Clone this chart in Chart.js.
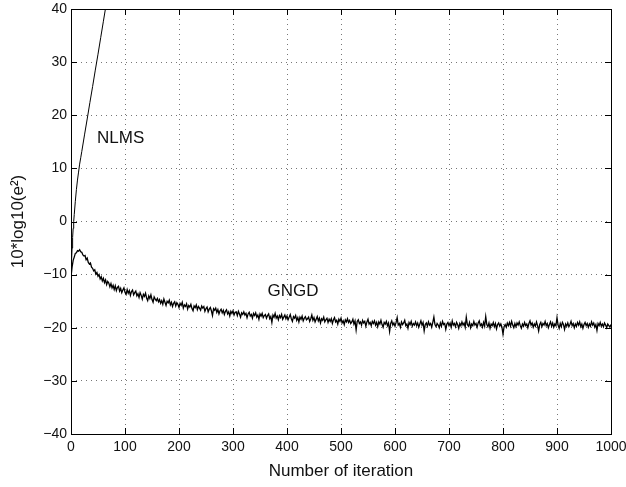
<!DOCTYPE html>
<html>
<head>
<meta charset="utf-8">
<script src="https://cdn.jsdelivr.net/npm/chart.js@4/dist/chart.umd.min.js"></script>
<style>
  html, body { margin: 0; padding: 0; background: #fff; }
  #chart { display: block; }
</style>
</head>
<body>
<canvas id="chart" width="626" height="487"></canvas>
<script>
// NLMS error curve - diverges quickly (iteration, dB)
const nlmsIter = [0, 1, 2, 3, 4, 5, 6, 8, 10, 12, 14, 16, 18, 20, 25, 30, 35, 40, 45, 50, 55, 60, 65, 70];
const nlmsDb = [-10.5, -7.5, -5, -3, -1.3, 0, 1.3, 3.8, 6, 7.8, 9.3, 10.8, 12, 13.2, 16.3, 19.3, 22.4, 25.4, 28.5, 31.5, 34.6, 37.7, 40.8, 43.9];

// GNGD error curve, one value every 2 iterations (0..1000), 40 iterations per row
const gngdStep = 2;
const gngdDb = [
  -10.4, -8.6, -7.3, -6.7, -6.0, -5.9, -5.5, -5.6, -5.3, -5.7, -5.8, -6.3, -6.5, -6.4, -7.2, -6.9, -7.7, -8.0, -7.8, -8.6,
  -8.8, -9.3, -9.1, -9.9, -9.6, -10.3, -10.0, -10.8, -10.4, -11.2, -10.7, -11.5, -11.0, -11.9, -11.3, -11.6, -12.3, -11.7, -12.5, -12.0,
  -12.8, -12.1, -13.0, -12.4, -12.2, -13.1, -12.6, -13.4, -12.9, -12.5, -13.3, -13.7, -12.8, -13.5, -13.0, -13.9, -13.2, -12.9, -13.8, -13.4,
  -13.1, -14.0, -13.6, -14.3, -13.4, -13.9, -14.6, -13.7, -14.1, -13.5, -14.4, -14.9, -14.0, -14.5, -13.8, -14.7, -15.2, -14.2, -14.6, -14.9,
  -14.5, -15.1, -14.7, -15.4, -14.9, -15.6, -14.6, -15.2, -15.8, -15.0, -15.3, -14.8, -15.7, -15.2, -16.0, -15.4, -15.1, -15.9, -15.3, -15.6,
  -16.2, -15.4, -15.8, -15.2, -16.3, -15.7, -16.0, -15.5, -16.5, -15.8, -16.1, -15.6, -16.4, -16.8, -15.9, -16.2, -15.7, -16.6, -16.0, -16.3,
  -16.7, -15.9, -16.3, -16.0, -16.9, -16.4, -16.1, -17.0, -16.5, -16.2, -16.8, -17.7, -16.4, -16.7, -16.3, -17.1, -16.6, -17.4, -16.8, -16.5,
  -17.2, -16.7, -17.5, -16.9, -16.6, -17.4, -17.0, -17.8, -16.9, -17.3, -16.8, -17.6, -17.1, -17.0, -17.7, -16.9, -17.4, -18.0, -17.2, -17.5,
  -17.0, -17.6, -17.3, -18.1, -17.4, -17.1, -17.8, -17.5, -18.2, -17.3, -17.7, -17.2, -18.0, -17.6, -18.4, -17.4, -17.8, -17.3, -18.1, -17.7,
  -17.5, -18.2, -17.7, -17.4, -18.3, -17.9, -19.0, -17.6, -18.0, -17.3, -18.2, -17.8, -18.5, -17.7, -18.1, -17.5, -18.4, -18.0, -17.6, -18.3,
  -17.8, -18.5, -18.0, -17.5, -18.3, -18.8, -17.9, -18.2, -17.7, -18.6, -18.1, -18.9, -18.0, -18.4, -17.8, -18.7, -18.2, -17.9, -18.5, -18.3,
  -18.0, -18.8, -18.3, -17.6, -18.6, -18.1, -18.9, -18.4, -17.9, -18.7, -18.2, -19.1, -18.3, -18.6, -18.0, -18.9, -18.5, -18.2, -19.0, -18.4,
  -18.8, -18.3, -19.2, -18.5, -18.1, -18.9, -18.6, -19.3, -18.4, -18.8, -18.2, -19.1, -18.7, -19.4, -18.5, -18.9, -18.3, -19.0, -18.6, -19.2,
  -18.9, -18.4, -19.3, -18.7, -20.4, -18.8, -18.5, -19.2, -18.9, -19.5, -18.6, -19.1, -18.8, -19.7, -18.9, -18.4, -19.3, -19.0, -19.6, -18.8,
  -19.2, -18.7, -19.5, -19.0, -19.8, -18.9, -19.3, -18.6, -19.4, -19.9, -19.0, -19.3, -18.8, -19.6, -19.1, -20.7, -19.2, -18.7, -19.5, -19.1,
  -19.7, -19.0, -18.1, -19.5, -19.2, -19.9, -18.9, -19.4, -19.1, -18.6, -19.6, -19.3, -20.1, -19.0, -19.4, -18.8, -19.7, -19.2, -19.5, -18.9,
  -19.6, -19.1, -19.9, -19.3, -18.7, -19.5, -19.0, -20.6, -19.4, -19.1, -19.7, -18.9, -19.5, -19.2, -19.9, -19.0, -18.0, -19.4, -19.8, -19.2,
  -19.5, -20.0, -19.1, -19.7, -18.8, -19.4, -19.2, -20.3, -19.3, -19.0, -19.6, -19.1, -19.9, -18.7, -19.5, -19.2, -19.8, -19.0, -19.4, -20.1,
  -19.2, -19.6, -18.9, -19.5, -19.1, -19.9, -18.0, -19.4, -19.7, -19.0, -20.0, -19.3, -19.6, -18.8, -19.5, -19.2, -19.9, -19.1, -18.7, -19.6,
  -19.3, -19.9, -19.0, -19.7, -17.9, -19.4, -19.8, -19.1, -20.1, -19.3, -19.6, -19.0, -19.8, -19.2, -20.2, -19.4, -19.1, -19.7, -19.3, -19.9,
  -21.2, -19.8, -19.4, -19.9, -19.1, -19.6, -19.0, -19.7, -18.8, -19.5, -20.0, -19.2, -19.8, -19.1, -19.5, -18.9, -19.6, -20.1, -19.3, -19.7,
  -19.0, -19.6, -19.3, -20.0, -19.2, -18.7, -19.5, -19.1, -19.9, -19.3, -19.7, -18.9, -19.6, -20.6, -19.4, -19.0, -19.8, -19.2, -19.5, -18.8,
  -19.6, -19.2, -20.0, -19.4, -18.9, -19.7, -19.1, -19.9, -19.3, -19.6, -18.1, -19.5, -20.1, -19.2, -19.8, -19.0, -19.4, -20.3, -19.3, -19.7,
  -19.1, -19.8, -19.4, -18.8, -19.6, -19.2, -20.0, -19.3, -19.7, -19.0, -19.5, -18.9, -19.8, -19.3, -20.1, -19.4, -19.0, -19.6, -19.2, -19.9,
  -19.3, -19.7, -18.9, -19.5, -19.1, -19.9, -19.4, -20.5, -19.2, -19.6, -19.0, -19.7, -19.3, -19.8, -19.1, -19.5, -20.0, -19.3, -19.6, -19.9,
  -19.4
];

// text labels placed in data units
const curveLabels = [
  { text: 'NLMS', x: 92, y: 15.7 },
  { text: 'GNGD', x: 411, y: -13.2 }
];

const FONT = '"Liberation Sans", Arial, Helvetica, sans-serif';

// frame + inward tick marks (matlab style) and curve labels
const framePlugin = {
  id: 'frame',
  afterDatasetsDraw(chart) {
    const { ctx, chartArea: a, scales } = chart;
    const tickLen = 6;
    ctx.save();
    ctx.strokeStyle = '#000';
    ctx.lineWidth = 1;
    ctx.beginPath();
    scales.x.ticks.forEach(t => {
      const px = Math.round(scales.x.getPixelForValue(t.value)) + 0.5;
      ctx.moveTo(px, a.bottom); ctx.lineTo(px, a.bottom - tickLen);
      ctx.moveTo(px, a.top); ctx.lineTo(px, a.top + tickLen);
    });
    scales.y.ticks.forEach(t => {
      const py = Math.round(scales.y.getPixelForValue(t.value)) + 0.5;
      ctx.moveTo(a.left, py); ctx.lineTo(a.left + tickLen, py);
      ctx.moveTo(a.right, py); ctx.lineTo(a.right - tickLen, py);
    });
    ctx.stroke();
    ctx.strokeRect(Math.round(a.left) + 0.5, Math.round(a.top) + 0.5,
      Math.round(a.right - a.left), Math.round(a.bottom - a.top));

    ctx.fillStyle = '#111';
    ctx.font = '17px ' + FONT;
    ctx.textAlign = 'center';
    ctx.textBaseline = 'middle';
    curveLabels.forEach(l => {
      ctx.fillText(l.text, scales.x.getPixelForValue(l.x), scales.y.getPixelForValue(l.y));
    });
    ctx.restore();
  }
};

const ctx = document.getElementById('chart').getContext('2d');
new Chart(ctx, {
  type: 'line',
  data: {
    datasets: [
      {
        label: 'NLMS',
        data: nlmsIter.map((it, i) => ({ x: it, y: nlmsDb[i] })),
        borderColor: '#000',
        borderWidth: 1,
        pointRadius: 0,
        tension: 0
      },
      {
        label: 'GNGD',
        data: gngdDb.map((v, i) => ({ x: i * gngdStep, y: v })),
        borderColor: '#000',
        borderWidth: 1.3,
        pointRadius: 0,
        tension: 0
      }
    ]
  },
  options: {
    responsive: false,
    animation: false,
    devicePixelRatio: 1,
    layout: { padding: { top: 9, right: 15, left: 0, bottom: 0 } },
    plugins: {
      legend: { display: false },
      tooltip: { enabled: false }
    },
    scales: {
      x: {
        type: 'linear',
        min: 0,
        max: 1000,
        ticks: {
          stepSize: 100,
          padding: 5,
          color: '#111',
          font: { family: FONT, size: 14 },
          maxRotation: 0,
          callback: v => String(v)
        },
        grid: { color: '#777', lineWidth: 1, drawTicks: false },
        border: { display: false, dash: [1, 4] },
        title: {
          display: true,
          text: 'Number of iteration',
          color: '#111',
          font: { family: FONT, size: 17 },
          padding: { top: 0, bottom: 5 }
        },
        afterFit(scale) {
          scale.height = 53;
          scale.paddingLeft = 0;
          scale.paddingRight = 0;
        }
      },
      y: {
        min: -40,
        max: 40,
        ticks: {
          stepSize: 10,
          padding: 4,
          color: '#111',
          font: { family: FONT, size: 14 },
          callback: v => String(v).replace('-', '\u2212')
        },
        grid: { color: '#777', lineWidth: 1, drawTicks: false },
        border: { display: false, dash: [1, 4] },
        title: {
          display: true,
          text: '10*log10(e\u00b2)',
          color: '#111',
          font: { family: FONT, size: 17 },
          padding: { top: 8, bottom: 0 }
        },
        afterFit(scale) {
          scale.width = 71;
          scale.paddingTop = 0;
          scale.paddingBottom = 0;
        }
      }
    }
  },
  plugins: [framePlugin]
});
</script>
</body>
</html>
